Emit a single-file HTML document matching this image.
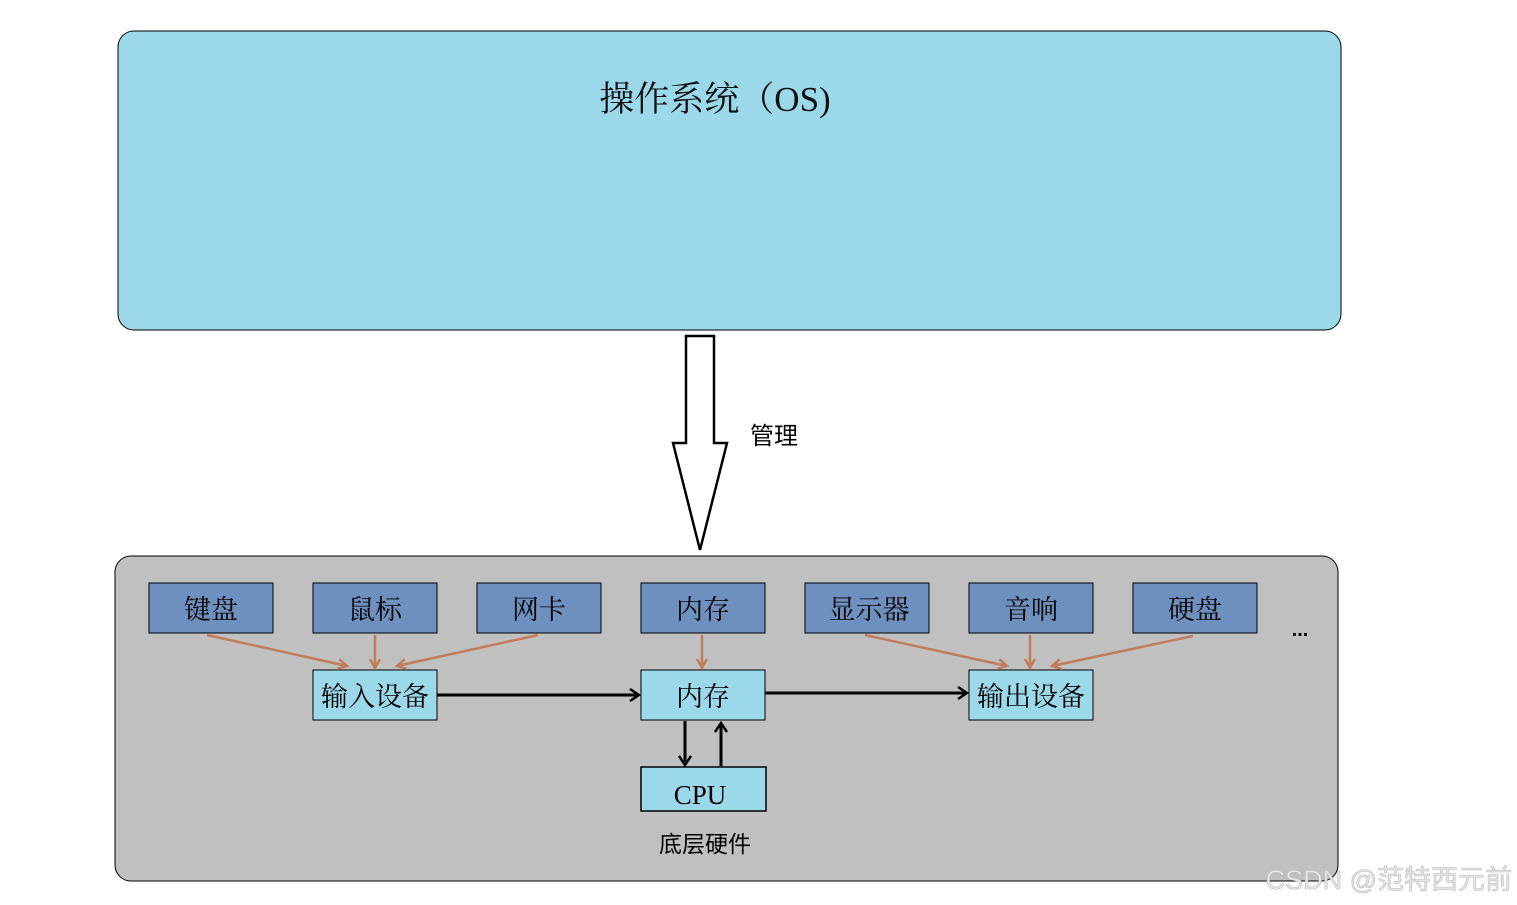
<!DOCTYPE html>
<html><head><meta charset="utf-8"><style>
html,body{margin:0;padding:0;background:#fff;}
svg{display:block}
.s{font-family:"Liberation Serif","Noto Serif CJK SC",serif;}
.a{font-family:"Liberation Sans","Noto Sans CJK SC",sans-serif;}
</style></head><body>
<svg width="1517" height="905" viewBox="0 0 1517 905" xmlns="http://www.w3.org/2000/svg">
<defs>
<marker id="ob" markerWidth="12" markerHeight="12" refX="10" refY="6" orient="auto" markerUnits="userSpaceOnUse"><path d="M1,1 L10,6 L1,11" fill="none" stroke="#c17c5c" stroke-width="2.5"/></marker>
<marker id="bk" markerWidth="12" markerHeight="14" refX="10" refY="7" orient="auto" markerUnits="userSpaceOnUse"><path d="M1,1 L10,7 L1,13" fill="none" stroke="#000" stroke-width="2.5"/></marker>
</defs>
<rect x="118" y="31" width="1223" height="299" rx="16" fill="#9bd8ea" stroke="#000" stroke-width="1"/>
<text x="715" y="111" text-anchor="middle" class="s" font-size="35" fill="#111">操作系统（OS)</text>
<path d="M686,336 L714,336 L714,443 L727,443 L700,550 L673,443 L686,443 Z" fill="#fff" stroke="#000" stroke-width="2.5"/>
<text x="750" y="444" class="a" font-size="24" fill="#000">管理</text>
<rect x="115" y="556" width="1223" height="325" rx="16" fill="#c0c0c0" stroke="#000" stroke-width="1"/>
<g class="s" font-size="27" fill="#000" text-anchor="middle">
<rect x="149" y="583" width="124" height="50" fill="#6e90be" stroke="#000"/><text x="211" y="619">键盘</text>
<rect x="313" y="583" width="124" height="50" fill="#6e90be" stroke="#000"/><text x="375" y="619">鼠标</text>
<rect x="477" y="583" width="124" height="50" fill="#6e90be" stroke="#000"/><text x="539" y="619">网卡</text>
<rect x="641" y="583" width="124" height="50" fill="#6e90be" stroke="#000"/><text x="703" y="619">内存</text>
<rect x="805" y="583" width="124" height="50" fill="#6e90be" stroke="#000"/><text x="869" y="619">显示器</text>
<rect x="969" y="583" width="124" height="50" fill="#6e90be" stroke="#000"/><text x="1031" y="619">音响</text>
<rect x="1133" y="583" width="124" height="50" fill="#6e90be" stroke="#000"/><text x="1195" y="619">硬盘</text>
<rect x="313" y="670" width="124" height="50" fill="#9bd8ea" stroke="#000"/><text x="375" y="706">输入设备</text>
<rect x="641" y="670" width="124" height="50" fill="#9bd8ea" stroke="#000"/><text x="703" y="706">内存</text>
<rect x="969" y="670" width="124" height="50" fill="#9bd8ea" stroke="#000"/><text x="1031" y="706">输出设备</text>
<rect x="641" y="767" width="125" height="44" fill="#9bd8ea" stroke="#000" stroke-width="1.5"/><text x="700" y="804" font-size="27">CPU</text>
</g>
<g stroke="#c17c5c" stroke-width="2.5" fill="none">
<line x1="207" y1="635" x2="347" y2="666" marker-end="url(#ob)"/>
<line x1="375" y1="635" x2="375" y2="668" marker-end="url(#ob)"/>
<line x1="538" y1="635" x2="397" y2="666" marker-end="url(#ob)"/>
<line x1="702" y1="635" x2="702" y2="668" marker-end="url(#ob)"/>
<line x1="865" y1="635" x2="1007" y2="666" marker-end="url(#ob)"/>
<line x1="1030" y1="635" x2="1030" y2="668" marker-end="url(#ob)"/>
<line x1="1193" y1="636" x2="1052" y2="666" marker-end="url(#ob)"/>
</g>
<g stroke="#000" stroke-width="3" fill="none">
<line x1="437" y1="695" x2="639" y2="695" marker-end="url(#bk)"/>
<line x1="765" y1="693" x2="967" y2="693" marker-end="url(#bk)"/>
<line x1="685" y1="721" x2="685" y2="765" marker-end="url(#bk)"/>
<line x1="721" y1="766" x2="721" y2="723" marker-end="url(#bk)"/>
</g>
<text x="1300" y="636" text-anchor="middle" class="a" font-size="20" font-weight="bold">...</text>
<text x="705" y="852" text-anchor="middle" class="a" font-size="23">底层硬件</text>
<text x="1512" y="889" text-anchor="end" class="a" font-size="27" fill="#e6e6e6" stroke="#bbb" stroke-width="0.6">CSDN @范特西元前</text>
</svg>
</body></html>
